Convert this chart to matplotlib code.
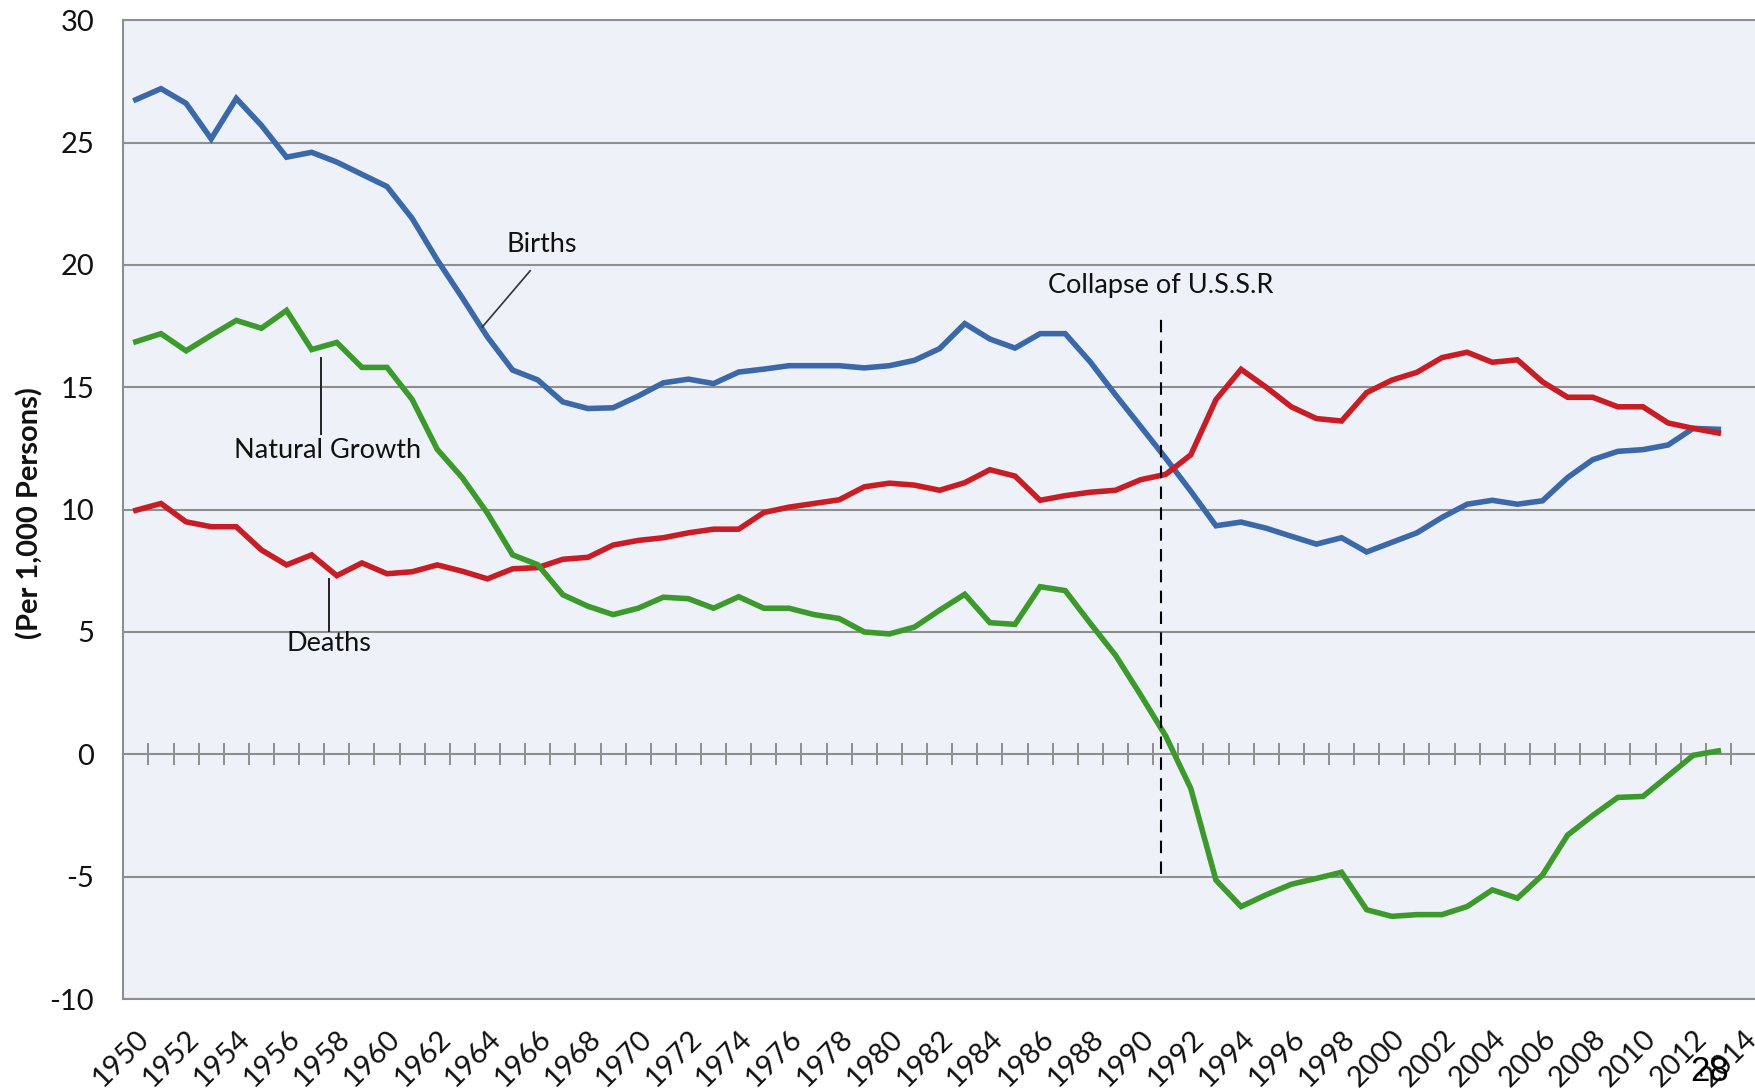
import matplotlib.pyplot as plt
import numpy as np

plt.rcParams['axes.unicode_minus'] = False

# data (per 1,000 persons)
years = list(range(1950, 2014))
births = [26.75, 27.2, 26.6, 25.15, 26.8, 25.7, 24.4, 24.6, 24.2, 23.7,
          23.2, 21.9, 20.2, 18.65, 17.05, 15.7, 15.3, 14.4, 14.13, 14.16,
          14.64, 15.18, 15.33, 15.15, 15.62, 15.74, 15.88, 15.88, 15.88, 15.79,
          15.88, 16.1, 16.58, 17.6, 16.97, 16.6, 17.19, 17.19, 16.03, 14.69,
          13.4, 12.1, 10.75, 9.34, 9.49, 9.24, 8.91, 8.59, 8.85, 8.27,
          8.66, 9.05, 9.68, 10.22, 10.38, 10.22, 10.36, 11.31, 12.04, 12.38,
          12.45, 12.64, 13.32, 13.28]
deaths = [9.97, 10.25, 9.5, 9.3, 9.3, 8.35, 7.74, 8.15, 7.3, 7.82,
          7.38, 7.46, 7.74, 7.48, 7.17, 7.58, 7.63, 7.97, 8.05, 8.55,
          8.74, 8.85, 9.05, 9.2, 9.2, 9.88, 10.1, 10.25, 10.4, 10.93,
          11.08, 11.0, 10.79, 11.1, 11.63, 11.37, 10.38, 10.57, 10.71, 10.79,
          11.22, 11.44, 12.24, 14.49, 15.73, 15.0, 14.2, 13.72, 13.62, 14.78,
          15.29, 15.61, 16.21, 16.43, 16.02, 16.12, 15.22, 14.59, 14.59, 14.2,
          14.2, 13.54, 13.32, 13.13]
growth = [16.86, 17.19, 16.49, 17.12, 17.73, 17.41, 18.14, 16.54, 16.83, 15.81,
          15.81, 14.5, 12.46, 11.3, 9.85, 8.15, 7.75, 6.52, 6.05, 5.71,
          5.97, 6.42, 6.36, 5.97, 6.44, 5.97, 5.97, 5.71, 5.55, 5.0,
          4.92, 5.2, 5.89, 6.54, 5.38, 5.31, 6.85, 6.69, 5.35, 4.05,
          2.43, 0.75, -1.4, -5.14, -6.22, -5.74, -5.31, -5.07, -4.82, -6.35,
          -6.62, -6.55, -6.55, -6.22, -5.54, -5.88, -4.93, -3.30, -2.5, -1.76,
          -1.72, -0.88, -0.04, 0.14]
categories = list(range(1950, 2015))
label_years = categories[::2]
collapse_year = 1990.8

font = 'Lato'
blue = '#3A68A8'
red = '#C81D25'
green = '#3C9A2C'
grid_c = '#8E8E8E'
txt_c = '#111111'

fig = plt.figure(figsize=(17.56, 10.89), dpi=100)
ax = fig.add_axes([0.0702, 0.0826, 0.9298, 0.8989])
ax.set_facecolor('#EEF2F8')

ax.plot(years, births, color=blue, lw=4, solid_joinstyle='miter', zorder=4)
ax.plot(years, deaths, color=red, lw=4, solid_joinstyle='miter', zorder=4)
ax.plot(years, growth, color=green, lw=4, solid_joinstyle='miter', zorder=4)

ax.set_xlim(categories[0] - 0.5, categories[-1] + 0.5)
ax.set_ylim(-10, 30)
ax.set_yticks(np.arange(-10, 31, 5))
ax.yaxis.grid(True, color=grid_c, lw=1.5)
ax.set_axisbelow(True)

# cross ticks on the zero line, between categories
bounds = np.array(categories[:-1]) + 0.5
ax.plot(bounds, np.zeros(len(bounds)), ls='none', marker='|', ms=16,
        mew=1.4, color=grid_c, zorder=3)

ax.set_xticks(label_years)
ax.set_xticklabels([str(y) for y in label_years], rotation=45, ha='right',
                   va='top', rotation_mode='anchor', fontsize=21,
                   family=font, color=txt_c)
ax.tick_params(axis='x', length=0, pad=19)
ax.tick_params(axis='y', length=0, pad=21, labelsize=21, labelcolor=txt_c)
for t in ax.get_yticklabels():
    t.set_family(font)

for s in ['left', 'bottom', 'top']:
    ax.spines[s].set_color(grid_c)
    ax.spines[s].set_linewidth(1.5)
ax.spines['right'].set_visible(False)

fig.text(0.017, 0.529, '(Per 1,000 Persons)', rotation=90, ha='center',
         va='center', fontsize=21, fontweight='bold', family=font,
         color=txt_c)

# collapse marker
ax.plot([collapse_year, collapse_year], [-4.9, 17.8], color='black', lw=1.5,
        ls=(0, (6, 4)), zorder=5)
ax.text(collapse_year, 19.15, 'Collapse of U.S.S.R', ha='center', va='center',
        fontsize=19.5, family=font, color=txt_c)

# series labels with leader lines
ax.text(1966.17, 20.85, 'Births', ha='center', va='center', fontsize=19.5,
        family=font, color=txt_c)
ax.plot([1965.7, 1963.8], [19.76, 17.47], color='#333333', lw=1.2, zorder=5)

ax.text(1957.65, 12.41, 'Natural Growth', ha='center', va='center',
        fontsize=19.5, family=font, color=txt_c)
ax.plot([1957.39, 1957.39], [16.2, 13.09], color='#222222', lw=1.4, zorder=5)

ax.text(1957.69, 4.51, 'Deaths', ha='center', va='center', fontsize=19.5,
        family=font, color=txt_c)
ax.plot([1957.69, 1957.69], [7.17, 5.02], color='#222222', lw=1.4, zorder=5)

fig.text(0.9735, 0.007, '28', ha='center', va='baseline', fontsize=25,
         family='Liberation Sans', color='black', zorder=10)

fig.savefig('out.png', dpi=100)
